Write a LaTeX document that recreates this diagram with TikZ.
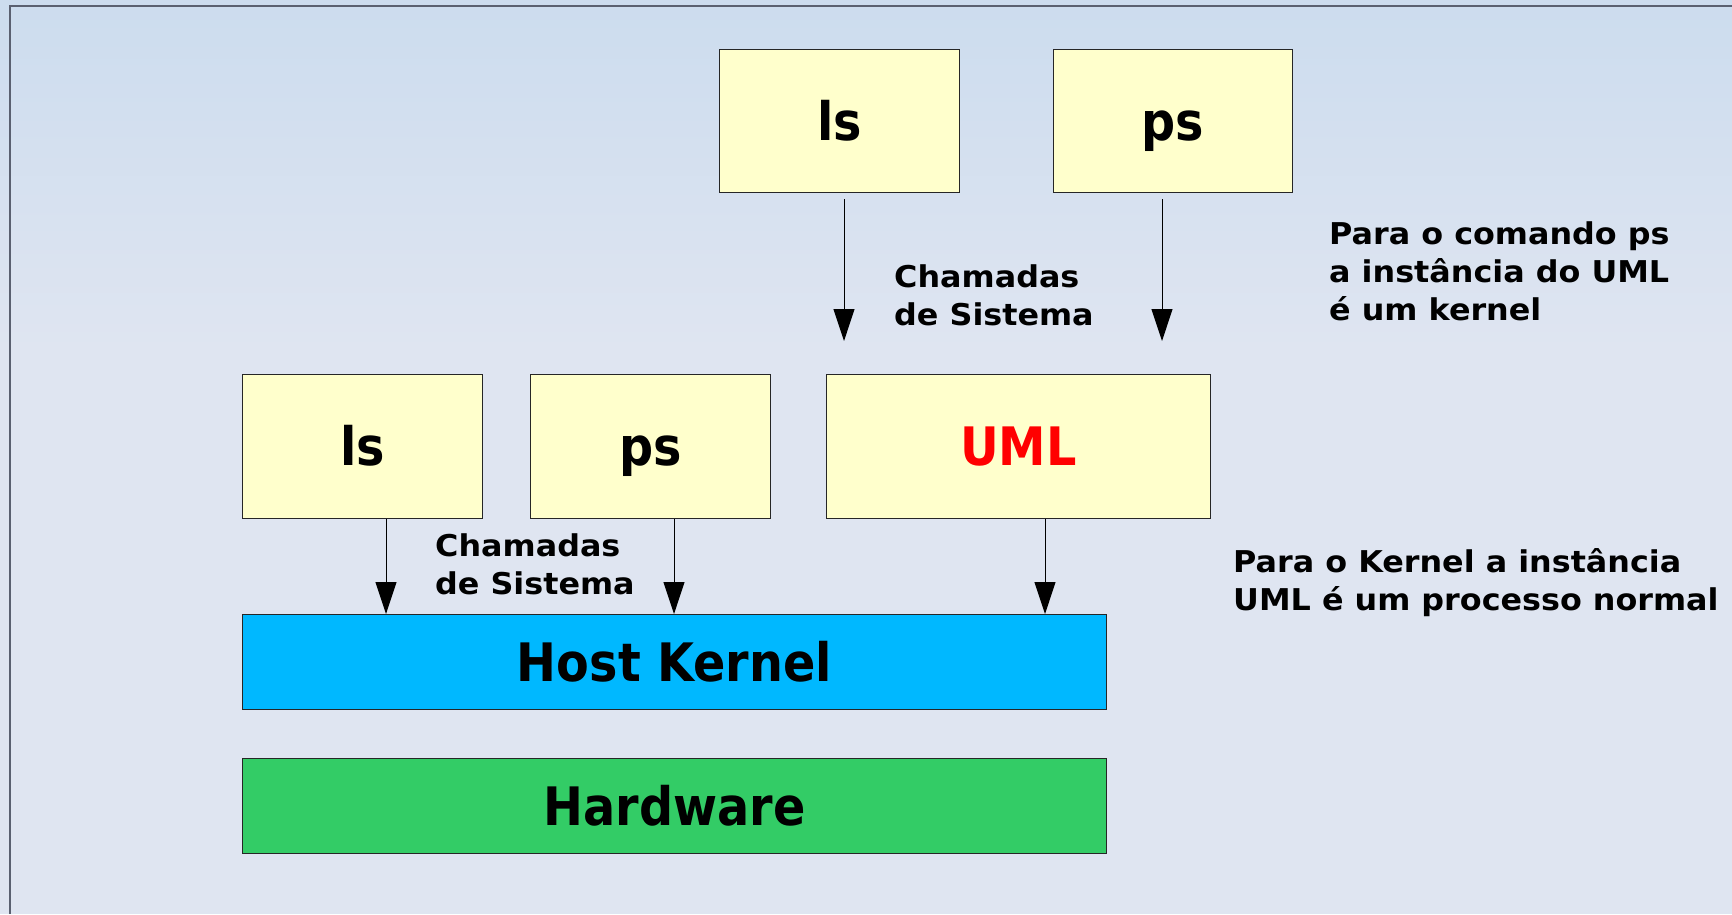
\documentclass[tikz,border=0pt]{standalone}
\usepackage{fontspec}
\setmainfont{DejaVu Sans}[FakeStretch=1.06]
\newfontfamily\boxfont{DejaVu Sans}[FakeStretch=0.9]
\usetikzlibrary{arrows.meta}
\definecolor{bgtop}{HTML}{CCDCEE}
\definecolor{bgbot}{HTML}{DFE5F1}
\definecolor{paleyellow}{HTML}{FFFFCC}
\definecolor{kblue}{HTML}{00B8FF}
\definecolor{hgreen}{HTML}{33CC66}
\definecolor{framegray}{HTML}{5A6070}
\definecolor{umlred}{HTML}{FF0000}
\tikzset{
  box/.style={draw=black!85, line width=1pt, inner sep=0pt, anchor=north west,
    font=\boxfont\bfseries\fontsize{53}{60}\selectfont, text height=38.5pt, text depth=0pt},
  ybox/.style={box, fill=paleyellow},
  note/.style={anchor=base west, inner sep=0pt, font=\bfseries\fontsize{30}{38}\selectfont},
  arr/.style={draw=black, line width=1pt, -{Triangle[length=32pt,width=21pt]}}
}
\begin{document}
\begin{tikzpicture}[x=1pt,y=-1pt]
\useasboundingbox (0,0) rectangle (1732,914);
\fill[top color=bgtop, bottom color=bgbot] (0,0) rectangle (1732,351);
\fill[bgbot] (0,350) rectangle (1732,914);
\draw[framegray, line width=2pt] (10,914) -- (10,6) -- (1732,6);

% top row
\node[ybox, minimum width=240pt, minimum height=143pt] (tls) at (719,49) {ls};
\node[ybox, minimum width=239pt, minimum height=143pt] (tps) at (1053,49) {ps};
% middle row
\node[ybox, minimum width=240pt, minimum height=144pt] (bls) at (242,374) {ls};
\node[ybox, minimum width=240pt, minimum height=144pt] (bps) at (530,374) {ps};
\node[ybox, minimum width=384pt, minimum height=144pt, text=umlred] (uml) at (826,374) {UML};
% bars
\node[box, fill=kblue, minimum width=864pt, minimum height=95pt] (hk) at (242,614) {Host Kernel};
\node[box, fill=hgreen, minimum width=864pt, minimum height=95pt] (hw) at (242,758) {Hardware};

% arrows top
\coordinate (a1) at (844,341);
\coordinate (a2) at (1162,341);
\draw[arr, shorten <=6pt] (a1 |- tls.south) -- (a1);
\draw[arr, shorten <=6pt] (a2 |- tps.south) -- (a2);
% arrows bottom
\coordinate (k1) at (386,614);
\coordinate (k2) at (674,614);
\coordinate (k3) at (1045,614);
\draw[arr] (k1 |- bls.south) -- (k1 |- hk.north);
\draw[arr] (k2 |- bps.south) -- (k2 |- hk.north);
\draw[arr] (k3 |- uml.south) -- (k3 |- hk.north);

% texts
\node[note] (c1) at (894,287) {\begin{tabular}[t]{@{}l@{}}Chamadas\\de Sistema\end{tabular}};
\node[note] (c2) at (435,556) {\begin{tabular}[t]{@{}l@{}}Chamadas\\de Sistema\end{tabular}};
\node[note] (n1) at (1329,244) {\begin{tabular}[t]{@{}l@{}}Para o comando ps\\a instância do UML\\é um kernel\end{tabular}};
\node[note] (n2) at (1233,572) {\begin{tabular}[t]{@{}l@{}}Para o Kernel a instância\\UML é um processo normal\end{tabular}};
\end{tikzpicture}
\end{document}
